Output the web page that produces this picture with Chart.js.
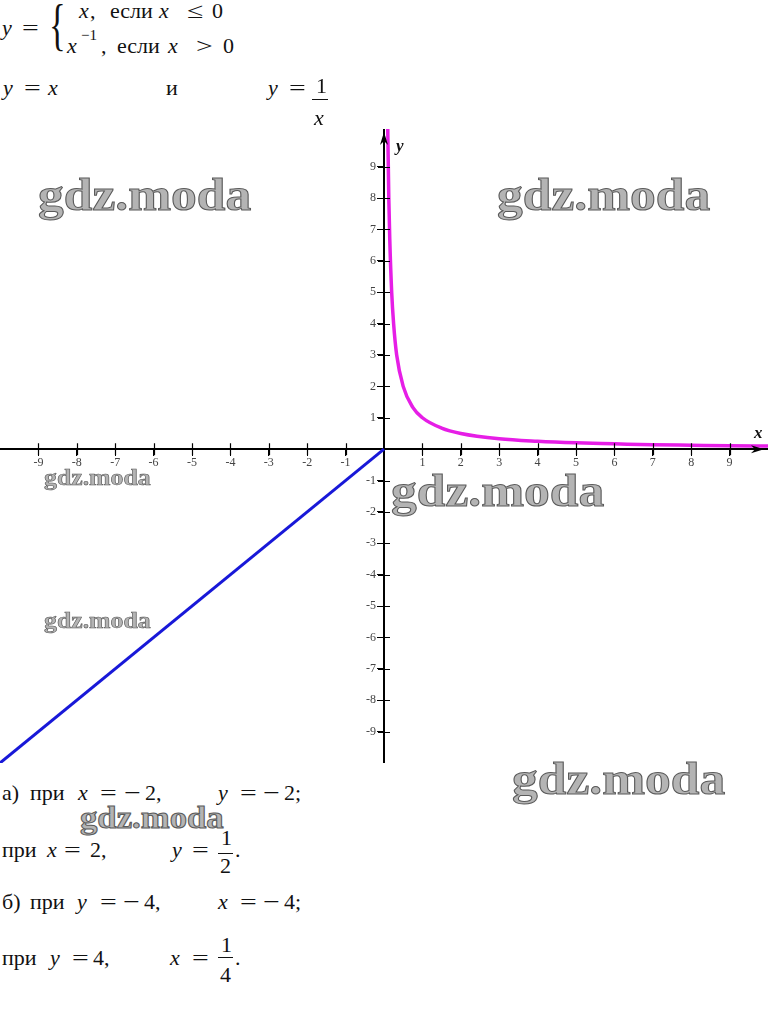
<!DOCTYPE html>
<html>
<head>
<meta charset="utf-8">
<script src="https://cdn.jsdelivr.net/npm/chart.js@4"></script>
<style>
  body { margin: 0; background: #fff; }
  #page { position: relative; width: 768px; height: 1019px; overflow: hidden;
          font-family: "Liberation Serif", "DejaVu Serif", serif; font-size: 22px; color: #111; }
  .t { position: absolute; white-space: pre; line-height: 1; }
  .i { font-style: italic; }
  .op { transform: scaleX(1.35); transform-origin: 0 0; }
  .bar { position: absolute; height: 1px; background: #111; }
  #wrap { position: absolute; left: 0; top: 129px; width: 768px; height: 634px; }
  .wm { position: absolute; white-space: pre; line-height: 1; font-weight: bold; color: #b4b4b4;
        -webkit-text-stroke: 1px #5a5a5a; transform-origin: 0 0; }
  .lbl { position: absolute; font-weight: bold; font-style: italic; font-size: 17px; line-height: 1; }
</style>
</head>
<body>
<div id="page">
  <div id="wrap"><canvas id="graph" width="768" height="634"></canvas></div>
  <div class="lbl" style="left:754px;top:424px;">x</div>
  <div class="lbl" style="left:396px;top:137px;">y</div>
</div>

<script>
// tick labels on both axes (0 and the ends are left out)
const xTickValues = [-9, -8, -7, -6, -5, -4, -3, -2, -1, 1, 2, 3, 4, 5, 6, 7, 8, 9];
const yTickValues = [-9, -8, -7, -6, -5, -4, -3, -2, -1, 1, 2, 3, 4, 5, 6, 7, 8, 9];

// y = x for x <= 0
const lineX = [-10, 0];
const lineY = [-10, 0];

// y = 1/x for x > 0
const hypX = [0.098, 0.1, 0.125, 0.15, 0.2, 0.25, 0.33, 0.5, 0.75, 1, 1.5, 2, 3, 4, 5, 6, 7, 8, 9, 10];
const hypY = [10.2, 10, 8, 6.7, 5, 4, 3, 2, 1.33, 1, 0.67, 0.5, 0.33, 0.25, 0.2, 0.17, 0.14, 0.125, 0.11, 0.1];

const toPoints = (xs, ys) => xs.map((v, i) => ({ x: v, y: ys[i] }));

// ---- text around the graph ----
const page = document.getElementById("page");
function put(html, left, top, cls, extra) {
  const d = document.createElement("div");
  d.className = "t " + (cls || "");
  d.style.left = left + "px";
  d.style.top = top + "px";
  if (extra) d.style.cssText += extra;
  d.innerHTML = html;
  page.appendChild(d);
}
function bar(left, top, width) {
  const d = document.createElement("div");
  d.className = "bar";
  d.style.cssText = `left:${left}px;top:${top}px;width:${width}px;`;
  page.appendChild(d);
}

// y = { x, если x <= 0 ; x^-1, если x > 0
put("y", 2, 17, "i");
put("=", 22, 17, "op");
put("{", 49, -4, "", "font-size:58px;transform:scaleX(0.6);transform-origin:0 0;");
put("x", 79, 0, "i"); put(",", 90, 0);
put("если", 110, 0); put("x", 159, 0, "i"); put("≤", 187, 0, "op"); put("0", 212, 0);
put("x", 67, 35, "i"); put("−1", 81, 28, "", "font-size:15px;");
put(",", 101, 35); put("если", 117, 35); put("x", 168, 35, "i"); put("&gt;", 196, 35, "op"); put("0", 223, 35);

// y = x   и   y = 1/x
put("y", 3, 77, "i"); put("=", 24, 77, "op"); put("x", 48, 77, "i");
put("и", 166, 77);
put("y", 268, 77, "i"); put("=", 289, 77, "op");
put("1", 316, 75); bar(312, 99, 16); put("x", 314, 107, "i");

// а) при x = -2, y = -2;
put("а)", 2, 782); put("при", 30, 782); put("x", 78, 782, "i"); put("=", 100, 782, "op");
put("−", 124, 782, "op"); put("2,", 145, 782);
put("y", 218, 782, "i"); put("=", 240, 782, "op"); put("−", 263, 782, "op"); put("2;", 284, 782);

// при x = 2, y = 1/2.
put("при", 2, 839); put("x", 47, 839, "i"); put("=", 64, 839, "op"); put("2,", 90, 839);
put("y", 172, 839, "i"); put("=", 192, 839, "op");
put("1", 221, 827); bar(218, 853, 15); put("2", 220, 855); put(".", 235, 839);

// б) при y = -4, x = -4;
put("б)", 2, 891); put("при", 30, 891); put("y", 77, 891, "i"); put("=", 100, 891, "op");
put("−", 123, 891, "op"); put("4,", 144, 891);
put("x", 218, 891, "i"); put("=", 240, 891, "op"); put("−", 263, 891, "op"); put("4;", 284, 891);

// при y = 4, x = 1/4.
put("при", 2, 947); put("y", 50, 947, "i"); put("=", 72, 947, "op"); put("4,", 93, 947);
put("x", 170, 947, "i"); put("=", 192, 947, "op");
put("1", 221, 934); bar(218, 957, 15); put("4", 220, 964); put(".", 235, 947);

// watermarks
const wm = [
  [38, 172, 46], [497, 172, 46], [391, 468, 46], [512, 756, 46],
  [44, 466, 23], [44, 609, 23], [80, 802, 31],
];
wm.forEach(([l, t, s]) => {
  const d = document.createElement("div");
  d.className = "wm";
  d.style.cssText = `left:${l}px;top:${t}px;font-size:${s}px;transform:scaleX(1.12);` +
    (s < 30 ? "-webkit-text-stroke:0.6px #555;" : "");
  d.textContent = "gdz.moda";
  page.appendChild(d);
});

// crossing tick marks, y labels and arrow heads
const axisExtras = {
  id: "axisExtras",
  afterDraw(chart) {
    const ctx = chart.ctx;
    const xs = chart.scales.x, ys = chart.scales.y;
    const x0 = xs.getPixelForValue(0), y0 = ys.getPixelForValue(0);
    ctx.save();
    ctx.strokeStyle = "#000";
    ctx.lineWidth = 1.2;
    ctx.beginPath();
    xTickValues.forEach(v => {
      const px = Math.round(xs.getPixelForValue(v)) + 0.5;
      ctx.moveTo(px, y0 - 6);
      ctx.lineTo(px, y0 + 6);
    });
    yTickValues.forEach(v => {
      const py = Math.round(ys.getPixelForValue(v)) + 0.5;
      ctx.moveTo(x0 - 6, py);
      ctx.lineTo(x0 + 6, py);
    });
    ctx.stroke();

    ctx.fillStyle = "#444";
    ctx.font = "12px 'Liberation Serif'";
    ctx.textAlign = "right";
    ctx.textBaseline = "middle";
    yTickValues.forEach(v => {
      ctx.fillText(String(v), x0 - 8, ys.getPixelForValue(v));
    });

    ctx.fillStyle = "#000";
    const xr = xs.getPixelForValue(xs.max) - 4;
    ctx.beginPath();
    ctx.moveTo(xr, y0);
    ctx.lineTo(xr - 13, y0 - 4);
    ctx.lineTo(xr - 9, y0);
    ctx.lineTo(xr - 13, y0 + 4);
    ctx.closePath();
    ctx.fill();
    const yt = ys.getPixelForValue(ys.max) + 3;
    ctx.beginPath();
    ctx.moveTo(x0, yt);
    ctx.lineTo(x0 - 4, yt + 13);
    ctx.lineTo(x0, yt + 9);
    ctx.lineTo(x0 + 4, yt + 13);
    ctx.closePath();
    ctx.fill();
    ctx.restore();
  }
};

const tickFont = { family: "Liberation Serif", size: 12 };

new Chart(document.getElementById("graph"), {
  type: "scatter",
  data: {
    datasets: [
      {
        data: toPoints(lineX, lineY),
        showLine: true,
        borderColor: "#1818d8",
        borderWidth: 3,
        pointRadius: 0,
        order: 1,
      },
      {
        data: toPoints(hypX, hypY),
        showLine: true,
        borderColor: "#e61ee6",
        borderWidth: 3.5,
        pointRadius: 0,
        cubicInterpolationMode: "monotone",
        order: 0,
      },
    ],
  },
  options: {
    responsive: false,
    animation: false,
    events: [],
    layout: { padding: 0 },
    plugins: { legend: { display: false }, tooltip: { enabled: false } },
    scales: {
      x: {
        type: "linear",
        min: -10,
        max: 10,
        position: { y: 0 },
        afterBuildTicks: s => { s.ticks = xTickValues.map(v => ({ value: v })); },
        grid: { drawOnChartArea: false, color: "#000", tickLength: 6 },
        border: { color: "#000", width: 2 },
        ticks: { font: tickFont, color: "#444", padding: 1, autoSkip: false, maxRotation: 0 },
      },
      y: {
        type: "linear",
        min: -10,
        max: 10.2,
        position: { x: 0 },
        afterBuildTicks: s => { s.ticks = yTickValues.map(v => ({ value: v })); },
        grid: { drawOnChartArea: false, color: "#000", tickLength: 6 },
        border: { color: "#000", width: 2 },
        ticks: { display: false },
      },
    },
  },
  plugins: [axisExtras],
});
</script>
</body>
</html>
